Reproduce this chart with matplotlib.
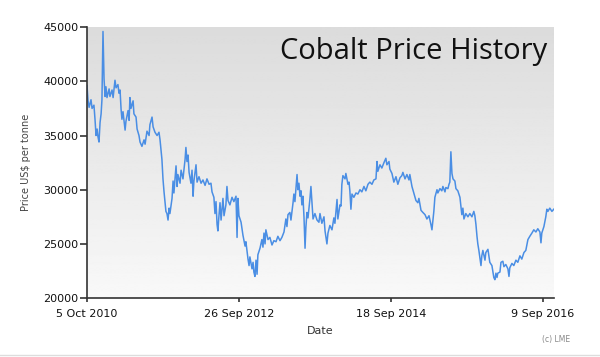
import numpy as np
import pandas as pd
import matplotlib
matplotlib.use("Agg")
import matplotlib.pyplot as plt
from matplotlib.lines import Line2D

# cobalt cash price (days since 5 Oct 2010, US$ per tonne)
start_date = "2010-10-05"
days = [0, 5, 10, 19, 24, 33, 38, 43, 48, 52, 57, 62, 67, 71, 76, 81, 86, 90, 95, 105,
        109, 119, 124, 133, 138, 147, 152, 157, 162, 166, 171, 181, 185, 195, 200, 204, 209, 219, 223, 233,
        238, 247, 252, 261, 271, 276, 285, 295, 299, 309, 314, 323, 333, 342, 347, 356, 361, 366, 375, 380,
        385, 390, 394, 404, 409, 413, 423, 428, 432, 442, 447, 456, 466, 470, 475, 480, 485, 494, 499, 504,
        508, 518, 523, 532, 542, 551, 561, 570, 580, 589, 594, 603, 608, 613, 618, 622, 627, 632, 637, 646,
        651, 660, 665, 670, 679, 689, 698, 708, 713, 717, 722, 732, 741, 751, 755, 765, 770, 774, 784, 789,
        793, 798, 803, 808, 812, 822, 831, 836, 841, 846, 850, 860, 869, 879, 888, 898, 907, 917, 926, 936,
        945, 950, 955, 964, 969, 979, 983, 988, 998, 1002, 1007, 1012, 1017, 1021, 1026, 1031, 1036, 1040, 1045, 1050,
        1059, 1064, 1069, 1074, 1083, 1093, 1102, 1107, 1116, 1126, 1131, 1140, 1145, 1154, 1164, 1173, 1178, 1188, 1192, 1202,
        1207, 1211, 1216, 1226, 1230, 1240, 1245, 1249, 1254, 1259, 1268, 1278, 1287, 1297, 1306, 1316, 1325, 1335, 1344, 1354,
        1363, 1373, 1378, 1382, 1392, 1401, 1411, 1420, 1425, 1435, 1439, 1449, 1458, 1468, 1477, 1487, 1496, 1501, 1511, 1520,
        1530, 1534, 1544, 1553, 1563, 1572, 1577, 1587, 1596, 1606, 1615, 1625, 1634, 1639, 1644, 1648, 1653, 1663, 1667, 1677,
        1686, 1691, 1701, 1705, 1715, 1720, 1724, 1729, 1734, 1739, 1748, 1753, 1762, 1772, 1777, 1781, 1786, 1791, 1800, 1810,
        1819, 1829, 1838, 1843, 1848, 1853, 1857, 1862, 1867, 1872, 1876, 1881, 1891, 1895, 1905, 1910, 1914, 1924, 1929, 1933,
        1938, 1943, 1948, 1952, 1962, 1967, 1976, 1981, 1990, 2000, 2005, 2009, 2019, 2028, 2038, 2047, 2057, 2066, 2076, 2085,
        2095, 2104, 2114, 2123, 2133, 2142, 2152, 2157, 2161, 2171, 2180, 2185, 2190, 2199, 2209, 2218]
price = [39600, 38200, 37600, 38300, 37500, 37800, 36500, 35000, 35600, 34900, 34400, 36200, 37000, 38300, 44600, 40200, 38600, 39500, 38500, 39300,
         38600, 39200, 38500, 40100, 39400, 39700, 38900, 39200, 37400, 36500, 37200, 35500, 36300, 37300, 36400, 38500, 37500, 38200, 37000, 36700,
         35600, 35000, 34400, 34000, 34600, 34200, 35400, 35000, 36000, 36700, 35800, 35300, 35000, 35300, 34600, 32800, 31000, 29800, 28000, 27800,
         27200, 28300, 27800, 29200, 30800, 29700, 32200, 30300, 31400, 30600, 31800, 31000, 32800, 33900, 32600, 33200, 31600, 30600, 31800, 29400,
         30800, 32300, 30700, 31200, 30600, 30900, 30400, 31000, 30500, 30600, 29800, 29300, 27800, 28900, 26800, 26200, 27600, 28800, 27200, 29200,
         27600, 28600, 30300, 29000, 28600, 29300, 28900, 29400, 25600, 29200, 27600, 27000, 25800, 24800, 25200, 23600, 23000, 23800, 22700, 23300,
         22400, 22000, 23500, 22200, 24000, 24600, 25400, 24700, 26000, 25000, 26300, 25400, 25600, 24900, 25300, 25200, 25700, 25300, 25600, 26100,
         27300, 26600, 27700, 27900, 27200, 28800, 29600, 28900, 31400, 30000, 30600, 29400, 29900, 28600, 29400, 27500, 24600, 26500, 27900, 27400,
         29100, 30300, 28800, 27300, 27800, 27200, 27000, 27800, 26900, 27500, 26200, 25000, 26000, 26700, 26300, 27400, 26900, 29100, 27300, 28600,
         28500, 30500, 31300, 31000, 31500, 30500, 30700, 29900, 28200, 29600, 29300, 29700, 29600, 30000, 29800, 30300, 29900, 30500, 30700, 30500,
         30900, 31000, 32600, 31700, 32300, 32000, 32500, 32900, 32300, 32600, 31900, 31500, 30700, 31200, 30500, 31100, 31300, 31600, 31000, 31400,
         30900, 31400, 30300, 29700, 29000, 28800, 29200, 28100, 27900, 27700, 27300, 27600, 26800, 26300, 27300, 28000, 29300, 30000, 29700, 30100,
         29900, 30300, 29800, 30200, 30100, 30500, 30700, 33500, 31500, 31000, 30800, 30100, 29900, 29300, 28400, 27700, 28300, 27300, 27800, 27500,
         27800, 27500, 28000, 27600, 26800, 25700, 25000, 24400, 23700, 23000, 23900, 24400, 23500, 24200, 24500, 23800, 23300, 23000, 22400, 21900,
         21700, 22300, 21900, 22300, 22400, 23300, 23400, 22900, 23100, 22700, 22000, 22800, 23200, 23000, 23500, 23300, 23900, 23600, 24200, 24400,
         25400, 25700, 26000, 26300, 26100, 26400, 26100, 25100, 26000, 26600, 27500, 28200, 28000, 28300, 28000, 28200]

tick_dates = ["2010-10-05", "2012-09-26", "2014-09-18", "2016-09-09"]
tick_labels = ["5 Oct 2010", "26 Sep 2012", "18 Sep 2014", "9 Sep 2016"]
y_ticks = [20000, 25000, 30000, 35000, 40000, 45000]

dates = pd.Timestamp(start_date) + pd.to_timedelta(days, unit="D")

fig = plt.figure(figsize=(6, 3.57), dpi=100)
ax = fig.add_axes([0.145, 0.165, 0.778, 0.759])

# grey-to-white gradient behind the line
grad = np.linspace(0.86, 0.975, 256).reshape(-1, 1)
ax.imshow(grad, cmap="gray", vmin=0, vmax=1, aspect="auto", extent=[0, 1, 0, 1],
          transform=ax.transAxes, origin="upper", zorder=0)

ax.plot(dates, price, color="#4a8ee4", lw=1.1, zorder=2)

ax.set_xlim(pd.Timestamp(start_date), dates[-1])
ax.set_ylim(20000, 45000)
ax.set_yticks(y_ticks)
ax.set_xticks(pd.to_datetime(tick_dates))
ax.set_xticklabels(tick_labels)

for s in ["top", "right"]:
    ax.spines[s].set_visible(False)
for s in ["left", "bottom"]:
    ax.spines[s].set_color("#333333")
    ax.spines[s].set_linewidth(1.2)

ax.tick_params(axis="y", length=5, width=1.2, color="#333333", labelsize=8, labelcolor="#111111", pad=1)
ax.tick_params(axis="x", length=3, width=1.2, color="#333333", labelsize=8, labelcolor="#111111", pad=5)

ax.set_ylabel("Price US$ per tonne", fontsize=7, color="#444444", labelpad=9)
ax.set_xlabel("Date", fontsize=8, color="#333333", labelpad=5)

ax.text(0.985, 0.91, "Cobalt Price History", transform=ax.transAxes, ha="right", va="center",
        fontsize=21, family="Open Sans", color="#111111", zorder=3)

fig.text(0.927, 0.05, "(c) LME", ha="center", va="center", fontsize=5.5, color="#888888")

fig.add_artist(Line2D([0, 1], [0.006, 0.006], transform=fig.transFigure, color="#dddddd", lw=1))

fig.savefig("out.png", dpi=100)
